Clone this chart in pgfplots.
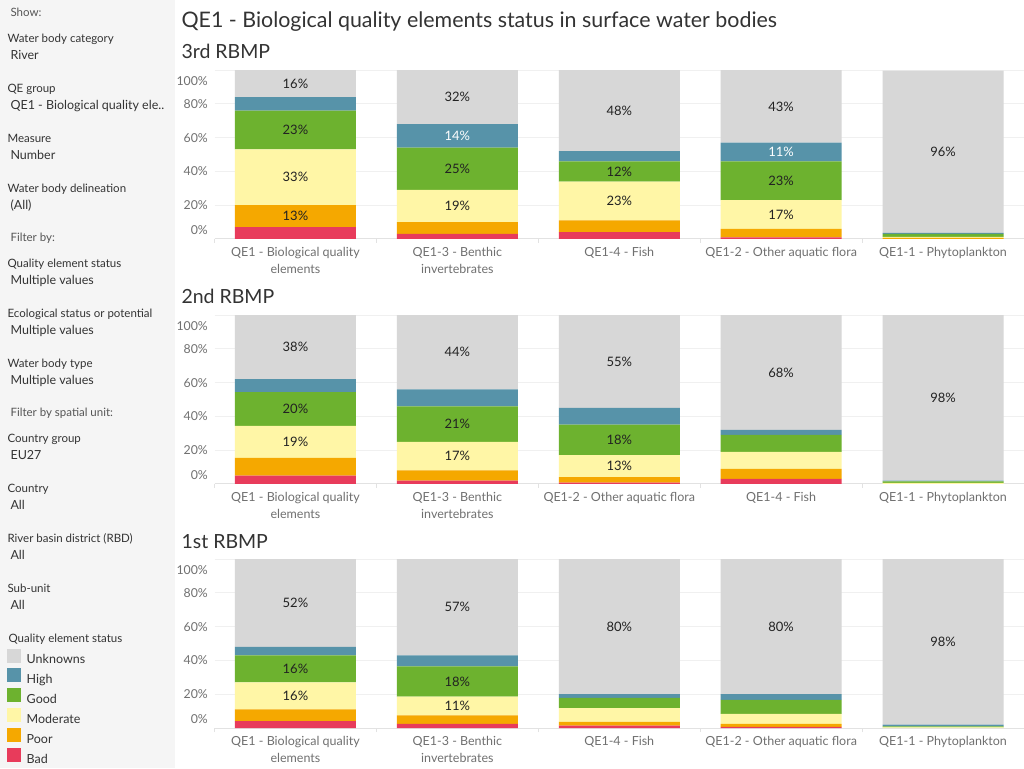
\documentclass[border=0pt]{standalone}
\usepackage{fontspec}
\setmainfont{Lato}
\usepackage{pgfplots}
\usepackage{pgfplotstable}
\pgfplotsset{compat=1.18}

\definecolor{cUnk}{HTML}{D7D7D7}
\definecolor{cHigh}{HTML}{5793A9}
\definecolor{cGood}{HTML}{6DB22F}
\definecolor{cMod}{HTML}{FFF6A6}
\definecolor{cPoor}{HTML}{F5A800}
\definecolor{cBad}{HTML}{E83B5B}
\definecolor{panelbg}{HTML}{F5F5F5}
\definecolor{txtdark}{HTML}{333333}
\definecolor{txtlabel}{HTML}{222222}
\definecolor{txtmid}{HTML}{555555}
\definecolor{txtgray}{HTML}{707070}
\definecolor{gridc}{HTML}{F0F0F0}
\definecolor{axisc}{HTML}{E2E2E2}

% Share of water bodies (%) per status class; columns run from the
% bottom of each stack (bad) to its top (unknown).
\pgfplotstableread{
x bad poor mod good high unk
0 7   13  33  23  8   16
1 3   7   19  25  14  32
2 4   7   23  12  6   48
3 1   5   17  23  11  43
4 0   0.7 0.6 1.8 0.5 96
}\rbmpthird

\pgfplotstableread{
x bad poor mod good high unk
0 5   10.4 19  20  7.6 38
1 2   6    17  21  10  44
2 0.8 3.3  13  18  9.9 55
3 3   6    10  10  3   68
4 0   0    0.6 1.0 0.4 98
}\rbmpsecond

\pgfplotstableread{
x bad poor mod good high unk
0 4   7   16  16  5   52
1 2.5 5   11  18  6.5 57
2 1.4 2.2 8.2 6   2.2 80
3 0.6 1.8 5.9 8.3 3.4 80
4 0   0   0.4 0.6 1.0 98
}\rbmpfirst

% segment label: shown for the larger classes only
\newcommand\seglabel{%
  \ifdim\segval pt>10.5pt\pgfmathprintnumber[fixed,precision=0]{\segval}\%\fi}

\pgfplotsset{
  panel/.style={
    scale only axis, width=809.5pt, height=169pt,
    anchor=south west,
    xmin=-0.5, xmax=4.5, ymin=0, ymax=100.02,
    ybar stacked, bar width=121pt,
    xtick={0,...,4},
    xticklabel style={align=center, font=\fontsize{12.5}{17}\selectfont,
      text=txtgray, anchor=north, inner sep=0pt, yshift=-8pt},
    extra x ticks={-0.5,0.5,1.5,2.5,3.5,4.5},
    extra x tick labels={},
    extra x tick style={major tick length=4pt, tick align=outside,
      tick style={draw=axisc, line width=1pt}},
    ytick={0,20,...,100},
    yticklabels={,20\%,40\%,60\%,80\%,},
    extra y ticks={5.2,93.5},
    extra y tick labels={0\%,100\%},
    extra y tick style={grid=none},
    yticklabel style={font=\fontsize{12.3}{14}\selectfont, text=txtgray,
      anchor=east, inner sep=0pt, xshift=-6.5pt},
    major tick length=0pt,
    ymajorgrids, major grid style={draw=gridc, line width=1pt},
    axis x line*=bottom, axis y line*=left,
    x axis line style={draw=axisc, line width=1pt, -},
    y axis line style={draw=none},
    every axis plot/.append style={draw=none},
    /pgf/number format/assume math mode=true,
    nodes near coords=\seglabel,
    every node near coord/.append style={anchor=center, inner sep=0pt,
      font=\fontsize{13}{15}\selectfont, text=txtlabel},
  },
}

% one stacked bar per quality element, bottom class first
\newcommand\statusstack[1]{%
  \addplot[fill=cBad, visualization depends on={\thisrow{bad} \as \segval}]
    table[x=x,y=bad]{#1};
  \addplot[fill=cPoor, visualization depends on={\thisrow{poor} \as \segval}]
    table[x=x,y=poor]{#1};
  \addplot[fill=cMod, visualization depends on={\thisrow{mod} \as \segval}]
    table[x=x,y=mod]{#1};
  \addplot[fill=cGood, visualization depends on={\thisrow{good} \as \segval}]
    table[x=x,y=good]{#1};
  \addplot[fill=cHigh, every node near coord/.append style={text=white},
    visualization depends on={\thisrow{high} \as \segval}]
    table[x=x,y=high]{#1};
  \addplot[fill=cUnk, visualization depends on={\thisrow{unk} \as \segval}]
    table[x=x,y=unk]{#1};
}

\newcommand\flabel[3]{\node[anchor=base west, font=\fontsize{11.5}{13}\selectfont, text=txtdark] at (#1,768-#2) {#3};}
\newcommand\fvalue[3]{\node[anchor=base west, font=\fontsize{12.5}{14}\selectfont, text=txtdark] at (#1,768-#2) {#3};}
\newcommand\fhead[3]{\node[anchor=base west, font=\fontsize{11.5}{13}\selectfont, text=txtmid] at (#1,768-#2) {#3};}

\begin{document}
\begin{tikzpicture}[x=1pt, y=1pt]
\useasboundingbox (0,0) rectangle (1024,768);
\fill[white] (0,0) rectangle (1024,768);
\fill[panelbg] (0,0) rectangle (175,768);

% filter panel
\fhead{7}{17}{Show:}
\flabel{4}{42.7}{Water body category}
\fvalue{7}{59.5}{River}
\flabel{4}{92.7}{QE group}
\fvalue{7}{109.5}{QE1 - Biological quality ele..}
\flabel{4}{142.7}{Measure}
\fvalue{7}{159.5}{Number}
\flabel{4}{192.7}{Water body delineation}
\fvalue{7}{209.5}{(All)}
\fhead{7}{242}{Filter by:}
\flabel{4}{267.7}{Quality element status}
\fvalue{7}{284.5}{Multiple values}
\flabel{4}{317.7}{Ecological status or potential}
\fvalue{7}{334.5}{Multiple values}
\flabel{4}{367.7}{Water body type}
\fvalue{7}{384.5}{Multiple values}
\fhead{7}{417}{Filter by spatial unit:}
\flabel{4}{442.7}{Country group}
\fvalue{7}{459.5}{EU27}
\flabel{4}{492.7}{Country}
\fvalue{7}{509.5}{All}
\flabel{4}{542.7}{River basin district (RBD)}
\fvalue{7}{559.5}{All}
\flabel{4}{592.7}{Sub-unit}
\fvalue{7}{609.5}{All}
\flabel{5}{643}{Quality element status}

% titles
\node[anchor=base west, font=\fontsize{21.4}{24}\selectfont, text=txtdark]
  at (178,768-27.5) {QE1 - Biological quality elements status in surface water bodies};
\node[anchor=base west, font=\fontsize{19.5}{22}\selectfont, text=txtdark] at (178,768-59) {3rd RBMP};
\node[anchor=base west, font=\fontsize{19.5}{22}\selectfont, text=txtdark] at (178,768-304) {2nd RBMP};
\node[anchor=base west, font=\fontsize{19.5}{22}\selectfont, text=txtdark] at (178,768-549) {1st RBMP};

\begin{axis}[panel, at={(214.5pt,529pt)},
  xticklabels={{QE1 - Biological quality\\elements},{QE1-3 - Benthic\\invertebrates},
    QE1-4 - Fish,QE1-2 - Other aquatic flora,QE1-1 - Phytoplankton}]
  \statusstack{\rbmpthird}
\end{axis}

\begin{axis}[panel, at={(214.5pt,284pt)},
  xticklabels={{QE1 - Biological quality\\elements},{QE1-3 - Benthic\\invertebrates},
    QE1-2 - Other aquatic flora,QE1-4 - Fish,QE1-1 - Phytoplankton}]
  \statusstack{\rbmpsecond}
\end{axis}

\begin{axis}[panel, at={(214.5pt,40pt)},
  xticklabels={{QE1 - Biological quality\\elements},{QE1-3 - Benthic\\invertebrates},
    QE1-4 - Fish,QE1-2 - Other aquatic flora,QE1-1 - Phytoplankton},
  reverse legend,
  legend image code/.code={\fill[#1] (0pt,-2.3pt) rectangle (14pt,11.7pt);},
  legend style={at={(rel axis cs:-0.2567,0.4704)}, anchor=north west,
    draw=none, fill=none, inner sep=0pt, outer sep=0pt,
    column sep=6pt, row sep=2.7pt,
    nodes={inner sep=0pt, text height=9pt, text depth=2pt},
    font=\fontsize{12.5}{14}\selectfont, text=txtdark},
  legend cell align=left]
  \statusstack{\rbmpfirst}
  \legend{Bad,Poor,Moderate,Good,High,Unknowns}
\end{axis}
\end{tikzpicture}
\end{document}
